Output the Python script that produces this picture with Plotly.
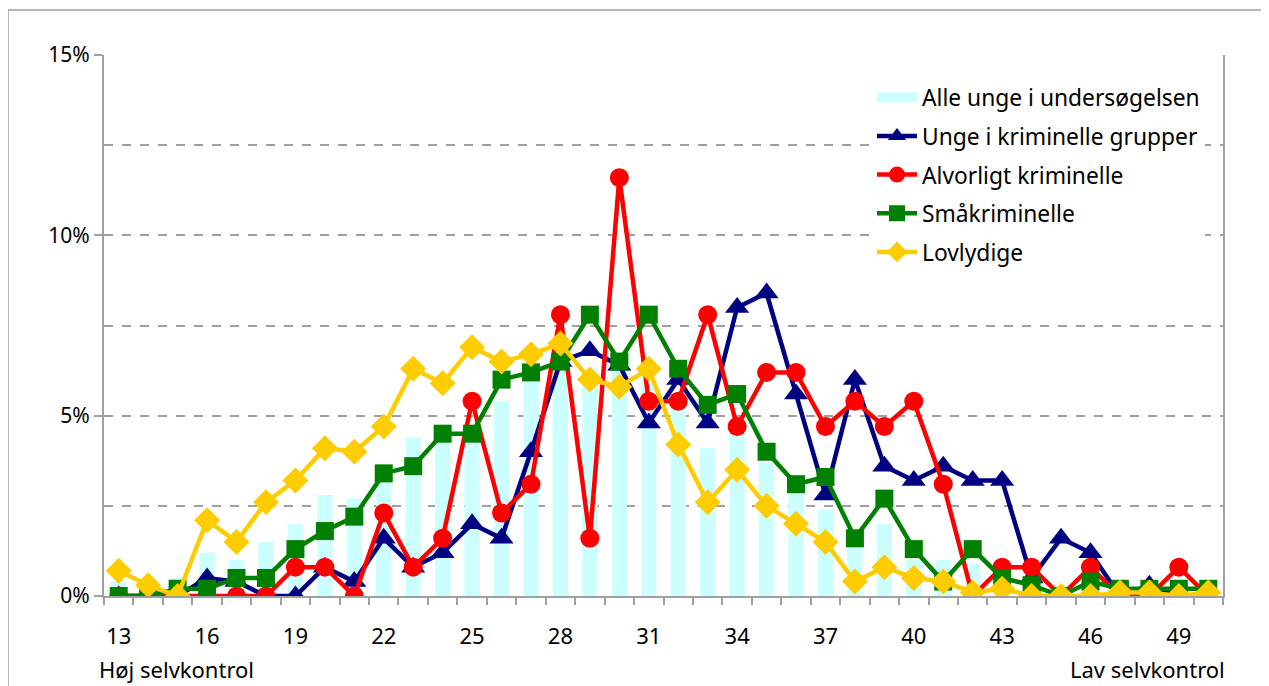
import plotly.graph_objects as go

categories = [13, 14, 15, 16, 17, 18, 19, 20, 21, 22, 23, 24, 25, 26, 27, 28, 29, 30, 31,
              32, 33, 34, 35, 36, 37, 38, 39, 40, 41, 42, 43, 44, 45, 46, 47, 48, 49, 50]

alle_unge = [0.4, 0.3, 0.5, 1.2, 1.0, 1.5, 2.0, 2.8, 2.7, 3.3, 4.4, 4.5, 4.6, 5.4, 6.0, 6.4, 6.3, 6.3, 6.0,
             5.3, 4.1, 4.6, 3.7, 2.9, 2.4, 1.4, 2.0, 1.0, 1.0, 0.9, 0.4, 0.3, 0.2, 0.2, 0.1, 0.1, 0.1, 0.1]

kriminelle_grupper = [0.0, 0.0, 0.0, 0.5, 0.4, 0.0, 0.0, 0.8, 0.4, 1.6, 0.8, 1.2, 2.0, 1.6, 4.0, 6.5, 6.8, 6.4, 4.8,
                      6.0, 4.8, 8.0, 8.4, 5.6, 2.8, 6.0, 3.6, 3.2, 3.6, 3.2, 3.2, 0.5, 1.6, 1.2, 0.0, 0.3, 0.0, 0.0]

alvorligt = [0.0, 0.0, 0.0, 0.0, 0.0, 0.0, 0.8, 0.8, 0.0, 2.3, 0.8, 1.6, 5.4, 2.3, 3.1, 7.8, 1.6, 11.6, 5.4,
             5.4, 7.8, 4.7, 6.2, 6.2, 4.7, 5.4, 4.7, 5.4, 3.1, 0.0, 0.8, 0.8, 0.0, 0.8, 0.0, 0.0, 0.8, 0.0]

smaakriminelle = [0.0, 0.0, 0.2, 0.2, 0.5, 0.5, 1.3, 1.8, 2.2, 3.4, 3.6, 4.5, 4.5, 6.0, 6.2, 6.5, 7.8, 6.5, 7.8,
                  6.3, 5.3, 5.6, 4.0, 3.1, 3.3, 1.6, 2.7, 1.3, 0.4, 1.3, 0.5, 0.3, 0.0, 0.4, 0.2, 0.2, 0.2, 0.2]

lovlydige = [0.7, 0.3, 0.0, 2.1, 1.5, 2.6, 3.2, 4.1, 4.0, 4.7, 6.3, 5.9, 6.9, 6.5, 6.7, 7.0, 6.0, 5.8, 6.3,
             4.2, 2.6, 3.5, 2.5, 2.0, 1.5, 0.4, 0.8, 0.5, 0.4, 0.1, 0.2, 0.0, 0.0, 0.0, 0.1, 0.1, 0.0, 0.1]

x_tick_labels = ["13", "16", "19", "22", "25", "28", "31", "34", "37", "40", "43", "46", "49"]
y_tick_values = [0, 0.05, 0.10, 0.15]

FONT = "Noto Sans, Open Sans, DejaVu Sans, sans-serif"
GRID = "#A0A0A0"

# Page body has an 8px margin; figure is sized so the plot lands where the reference has it.
W, H = 1261, 678
L, R, T, B = 96, 46, 47, 90
PW, PH = W - L - R, H - T - B


def pct(vals):
    return [v / 100 for v in vals]


def px_x(px):
    return (px - L) / PW


def px_y(py):
    return (T + PH - py) / PH


fig = go.Figure()

fig.add_trace(go.Bar(
    x=categories, y=pct(alle_unge), name="Alle unge i undersøgelsen",
    marker=dict(color="#CCFFFF", line=dict(width=0)), width=0.52,
    showlegend=False,
))
# legend proxy for the bar series (wide swatch like the reference)
fig.add_trace(go.Scatter(
    x=[None], y=[None], name="Alle unge i undersøgelsen", mode="lines",
    line=dict(color="#CCFFFF", width=15), legendgroup="a",
))

line_series = [
    ("Unge i kriminelle grupper", kriminelle_grupper, "#000080", "triangle-up", 21),
    ("Alvorligt kriminelle", alvorligt, "#FF0000", "circle", 19),
    ("Småkriminelle", smaakriminelle, "#008000", "square", 18),
    ("Lovlydige", lovlydige, "#FFCC00", "diamond", 20),
]
for i, (name, vals, color, sym, size) in enumerate(line_series):
    fig.add_trace(go.Scatter(
        x=categories, y=pct(vals), name=name, mode="lines+markers",
        line=dict(color=color, width=4.5),
        marker=dict(color=color, symbol=sym, size=size, line=dict(width=0)),
        legendgroup="g%d" % i,
    ))

fig.update_layout(
    width=W, height=H,
    margin=dict(l=L, r=R, t=T, b=B),
    paper_bgcolor="white", plot_bgcolor="white",
    font=dict(family=FONT, size=22, color="black"),
    showlegend=True,
    legend=dict(
        x=px_x(864), y=px_y(68), xanchor="left", yanchor="top",
        bgcolor="white", borderwidth=0,
        font=dict(family=FONT, size=22.8, color="black"),
        tracegroupgap=6, itemwidth=40,
    ),
    xaxis=dict(
        range=[12.5, 50.5],
        tickmode="array",
        tickvals=[int(t) for t in x_tick_labels],
        ticktext=x_tick_labels,
        ticks="", showgrid=False, zeroline=False,
        showline=True, linecolor=GRID, linewidth=2,
        ticklabelstandoff=20,
        tickfont=dict(family=FONT, size=22, color="black"),
        minor=dict(tick0=12.5, dtick=1, ticks="outside", ticklen=7,
                   tickcolor=GRID, tickwidth=2, showgrid=False),
    ),
    yaxis=dict(
        range=[0, 0.15],
        tickmode="array", tickvals=y_tick_values,
        tickformat=".0%",
        ticks="outside", ticklen=8, tickcolor=GRID, tickwidth=1.5,
        showline=True, linecolor=GRID, linewidth=2, mirror=True,
        showgrid=True, gridcolor=GRID, gridwidth=1.5, griddash="dash",
        zeroline=False,
        tickfont=dict(family=FONT, size=21, color="black"),
        minor=dict(dtick=0.025, tick0=0, showgrid=True, gridcolor=GRID,
                   gridwidth=1.5, griddash="dash", ticks=""),
    ),
    annotations=[
        dict(text="Høj selvkontrol", xref="paper", yref="paper",
             x=px_x(89), y=px_y(661),
             xanchor="left", yanchor="middle", showarrow=False,
             font=dict(family=FONT, size=22, color="black")),
        dict(text="Lav selvkontrol", xref="paper", yref="paper",
             x=px_x(1219), y=px_y(661),
             xanchor="right", yanchor="middle", showarrow=False,
             font=dict(family=FONT, size=22, color="black")),
    ],
    shapes=[
        dict(type="rect", xref="paper", yref="paper",
             x0=px_x(0), x1=px_x(1300),
             y0=px_y(720), y1=px_y(2),
             line=dict(color=GRID, width=1.5), fillcolor="rgba(0,0,0,0)", layer="below"),
    ],
)

fig.write_html("out.html")
